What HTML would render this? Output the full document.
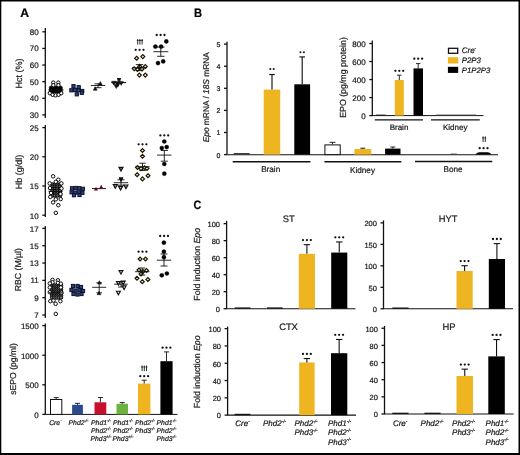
<!DOCTYPE html>
<html><head><meta charset="utf-8"><style>
html,body{margin:0;padding:0;background:#fff;}
body{width:520px;height:455px;overflow:hidden;}
svg{display:block;font-family:"Liberation Sans", sans-serif;-webkit-font-smoothing:antialiased;}
text{text-rendering:geometricPrecision;stroke:#1a1a1a;stroke-width:0.22px;}
.tl{will-change:transform;}
</style></head><body>
<svg width="520" height="455" viewBox="0 0 520 455" font-family='"Liberation Sans", sans-serif'>
<rect x="0" y="0" width="520" height="455" fill="#fff"/>
<g opacity="0.999"><text x="20.20" y="17.20" font-size="12.2" text-anchor="start" fill="#000" font-weight="bold">A</text>
<line x1="45.30" y1="28.00" x2="45.30" y2="118.00" stroke="#111" stroke-width="1.3"/>
<line x1="42.30" y1="114.90" x2="45.30" y2="114.90" stroke="#111" stroke-width="1.3"/>
<text x="38.70" y="117.80" font-size="8.0" text-anchor="end" fill="#222">30</text>
<line x1="42.30" y1="98.28" x2="45.30" y2="98.28" stroke="#111" stroke-width="1.3"/>
<text x="38.70" y="101.18" font-size="8.0" text-anchor="end" fill="#222">40</text>
<line x1="42.30" y1="81.66" x2="45.30" y2="81.66" stroke="#111" stroke-width="1.3"/>
<text x="38.70" y="84.56" font-size="8.0" text-anchor="end" fill="#222">50</text>
<line x1="42.30" y1="65.04" x2="45.30" y2="65.04" stroke="#111" stroke-width="1.3"/>
<text x="38.70" y="67.94" font-size="8.0" text-anchor="end" fill="#222">60</text>
<line x1="42.30" y1="48.42" x2="45.30" y2="48.42" stroke="#111" stroke-width="1.3"/>
<text x="38.70" y="51.32" font-size="8.0" text-anchor="end" fill="#222">70</text>
<line x1="42.30" y1="31.80" x2="45.30" y2="31.80" stroke="#111" stroke-width="1.3"/>
<text x="38.70" y="34.70" font-size="8.0" text-anchor="end" fill="#222">80</text>
<text x="21.90" y="73.50" font-size="9.0" text-anchor="middle" fill="#222" transform="rotate(-90 21.90 73.50)">Hct (%)</text>
<line x1="45.30" y1="125.00" x2="45.30" y2="217.00" stroke="#111" stroke-width="1.3"/>
<line x1="42.30" y1="215.20" x2="45.30" y2="215.20" stroke="#111" stroke-width="1.3"/>
<text x="38.70" y="218.60" font-size="8.0" text-anchor="end" fill="#222">10</text>
<line x1="42.30" y1="186.00" x2="45.30" y2="186.00" stroke="#111" stroke-width="1.3"/>
<text x="38.70" y="189.40" font-size="8.0" text-anchor="end" fill="#222">15</text>
<line x1="42.30" y1="156.80" x2="45.30" y2="156.80" stroke="#111" stroke-width="1.3"/>
<text x="38.70" y="160.20" font-size="8.0" text-anchor="end" fill="#222">20</text>
<line x1="42.30" y1="127.60" x2="45.30" y2="127.60" stroke="#111" stroke-width="1.3"/>
<text x="38.70" y="131.00" font-size="8.0" text-anchor="end" fill="#222">25</text>
<text x="21.90" y="172.00" font-size="9.0" text-anchor="middle" fill="#222" transform="rotate(-90 21.90 172.00)">Hb (g/dl)</text>
<line x1="45.30" y1="226.00" x2="45.30" y2="318.00" stroke="#111" stroke-width="1.3"/>
<line x1="42.30" y1="315.00" x2="45.30" y2="315.00" stroke="#111" stroke-width="1.3"/>
<text x="38.70" y="318.10" font-size="8.0" text-anchor="end" fill="#222">7</text>
<line x1="42.30" y1="297.68" x2="45.30" y2="297.68" stroke="#111" stroke-width="1.3"/>
<text x="38.70" y="300.78" font-size="8.0" text-anchor="end" fill="#222">9</text>
<line x1="42.30" y1="280.36" x2="45.30" y2="280.36" stroke="#111" stroke-width="1.3"/>
<text x="38.70" y="283.46" font-size="8.0" text-anchor="end" fill="#222">11</text>
<line x1="42.30" y1="263.04" x2="45.30" y2="263.04" stroke="#111" stroke-width="1.3"/>
<text x="38.70" y="266.14" font-size="8.0" text-anchor="end" fill="#222">13</text>
<line x1="42.30" y1="245.72" x2="45.30" y2="245.72" stroke="#111" stroke-width="1.3"/>
<text x="38.70" y="248.82" font-size="8.0" text-anchor="end" fill="#222">15</text>
<line x1="42.30" y1="228.40" x2="45.30" y2="228.40" stroke="#111" stroke-width="1.3"/>
<text x="38.70" y="231.50" font-size="8.0" text-anchor="end" fill="#222">17</text>
<text x="21.10" y="269.70" font-size="8.7" text-anchor="middle" fill="#222" transform="rotate(-90 21.10 269.70)">RBC (M/µl)</text>
<line x1="45.30" y1="323.60" x2="45.30" y2="414.40" stroke="#111" stroke-width="1.3"/>
<line x1="42.30" y1="414.40" x2="45.30" y2="414.40" stroke="#111" stroke-width="1.3"/>
<text x="38.70" y="418.00" font-size="8.0" text-anchor="end" fill="#222">0</text>
<line x1="42.30" y1="384.80" x2="45.30" y2="384.80" stroke="#111" stroke-width="1.3"/>
<text x="38.70" y="388.40" font-size="8.0" text-anchor="end" fill="#222">500</text>
<line x1="42.30" y1="355.20" x2="45.30" y2="355.20" stroke="#111" stroke-width="1.3"/>
<text x="38.70" y="358.80" font-size="8.0" text-anchor="end" fill="#222">1000</text>
<line x1="42.30" y1="325.60" x2="45.30" y2="325.60" stroke="#111" stroke-width="1.3"/>
<text x="38.70" y="329.20" font-size="8.0" text-anchor="end" fill="#222">1500</text>
<text x="16.10" y="368.90" font-size="8.6" text-anchor="middle" fill="#222" transform="rotate(-90 16.10 368.90)">sEPO (pg/ml)</text>
<line x1="44.80" y1="414.40" x2="177.50" y2="414.40" stroke="#111" stroke-width="1.0"/>
<circle cx="51.00" cy="87.80" r="1.8" fill="#000" stroke="#000" stroke-width="0.6"/>
<circle cx="51.00" cy="89.60" r="1.8" fill="#000" stroke="#000" stroke-width="0.6"/>
<circle cx="51.00" cy="91.40" r="1.8" fill="#000" stroke="#000" stroke-width="0.6"/>
<circle cx="53.40" cy="87.80" r="1.8" fill="#000" stroke="#000" stroke-width="0.6"/>
<circle cx="53.40" cy="89.60" r="1.8" fill="#000" stroke="#000" stroke-width="0.6"/>
<circle cx="53.40" cy="91.40" r="1.8" fill="#000" stroke="#000" stroke-width="0.6"/>
<circle cx="55.80" cy="87.80" r="1.8" fill="#000" stroke="#000" stroke-width="0.6"/>
<circle cx="55.80" cy="89.60" r="1.8" fill="#000" stroke="#000" stroke-width="0.6"/>
<circle cx="55.80" cy="91.40" r="1.8" fill="#000" stroke="#000" stroke-width="0.6"/>
<circle cx="58.20" cy="87.80" r="1.8" fill="#000" stroke="#000" stroke-width="0.6"/>
<circle cx="58.20" cy="89.60" r="1.8" fill="#000" stroke="#000" stroke-width="0.6"/>
<circle cx="58.20" cy="91.40" r="1.8" fill="#000" stroke="#000" stroke-width="0.6"/>
<circle cx="60.60" cy="87.80" r="1.8" fill="#000" stroke="#000" stroke-width="0.6"/>
<circle cx="60.60" cy="89.60" r="1.8" fill="#000" stroke="#000" stroke-width="0.6"/>
<circle cx="60.60" cy="91.40" r="1.8" fill="#000" stroke="#000" stroke-width="0.6"/>
<circle cx="53.30" cy="82.60" r="1.7" fill="#fff" stroke="#000" stroke-width="1.0"/>
<circle cx="58.40" cy="82.60" r="1.7" fill="#fff" stroke="#000" stroke-width="1.0"/>
<circle cx="53.30" cy="85.20" r="1.7" fill="#fff" stroke="#000" stroke-width="1.0"/>
<circle cx="58.40" cy="85.20" r="1.7" fill="#fff" stroke="#000" stroke-width="1.0"/>
<circle cx="49.80" cy="93.20" r="1.7" fill="#fff" stroke="#000" stroke-width="1.0"/>
<circle cx="52.60" cy="94.80" r="1.7" fill="#fff" stroke="#000" stroke-width="1.0"/>
<circle cx="55.60" cy="95.30" r="1.7" fill="#fff" stroke="#000" stroke-width="1.0"/>
<circle cx="58.60" cy="94.80" r="1.7" fill="#fff" stroke="#000" stroke-width="1.0"/>
<circle cx="61.30" cy="93.20" r="1.7" fill="#fff" stroke="#000" stroke-width="1.0"/>
<line x1="48.50" y1="90.00" x2="63.50" y2="90.00" stroke="#111" stroke-width="1.0"/>
<rect x="71.90" y="84.60" width="3.2" height="3.2" fill="#2e4275" stroke="#0c1230" stroke-width="1.0"/>
<rect x="77.10" y="85.60" width="3.2" height="3.2" fill="#2e4275" stroke="#0c1230" stroke-width="1.0"/>
<rect x="69.80" y="88.70" width="3.2" height="3.2" fill="#2e4275" stroke="#0c1230" stroke-width="1.0"/>
<rect x="73.40" y="88.40" width="3.2" height="3.2" fill="#2e4275" stroke="#0c1230" stroke-width="1.0"/>
<rect x="76.90" y="88.60" width="3.2" height="3.2" fill="#2e4275" stroke="#0c1230" stroke-width="1.0"/>
<rect x="80.60" y="89.40" width="3.2" height="3.2" fill="#2e4275" stroke="#0c1230" stroke-width="1.0"/>
<rect x="75.20" y="92.70" width="3.2" height="3.2" fill="#2e4275" stroke="#0c1230" stroke-width="1.0"/>
<rect x="80.20" y="91.20" width="3.2" height="3.2" fill="#2e4275" stroke="#0c1230" stroke-width="1.0"/>
<path d="M100.30 81.60L102.30 85.20L98.30 85.20Z" fill="#111" stroke="#111" stroke-width="0.5"/>
<path d="M95.20 86.70L97.20 90.30L93.20 90.30Z" fill="#111" stroke="#111" stroke-width="0.5"/>
<line x1="90.80" y1="85.50" x2="105.20" y2="85.50" stroke="#111" stroke-width="0.9"/>
<line x1="98.00" y1="83.80" x2="98.00" y2="87.70" stroke="#111" stroke-width="0.9"/>
<line x1="94.50" y1="83.80" x2="101.50" y2="83.80" stroke="#111" stroke-width="0.9"/>
<line x1="94.50" y1="87.70" x2="101.50" y2="87.70" stroke="#111" stroke-width="0.9"/>
<path d="M113.80 85.18L116.00 81.22L111.60 81.22Z" fill="#111" stroke="#111" stroke-width="0.5"/>
<path d="M117.60 85.58L119.80 81.62L115.40 81.62Z" fill="#111" stroke="#111" stroke-width="0.5"/>
<path d="M121.20 85.38L123.40 81.42L119.00 81.42Z" fill="#111" stroke="#111" stroke-width="0.5"/>
<path d="M116.20 88.58L118.40 84.62L114.00 84.62Z" fill="#111" stroke="#111" stroke-width="0.5"/>
<path d="M117.80 87.18L120.00 83.22L115.60 83.22Z" fill="#111" stroke="#111" stroke-width="0.5"/>
<line x1="111.30" y1="82.60" x2="126.00" y2="82.60" stroke="#111" stroke-width="1.1"/>
<line x1="119.00" y1="78.60" x2="119.00" y2="83.00" stroke="#111" stroke-width="1.1"/>
<line x1="117.00" y1="78.60" x2="121.00" y2="78.60" stroke="#111" stroke-width="1.1"/>
<rect x="117.40" y="78.40" width="3.20" height="2.40" fill="#111"/>
<path d="M136.60 56.25L138.55 58.20L136.60 60.15L134.65 58.20Z" fill="#f8efc8" stroke="#1e1600" stroke-width="1.2"/>
<path d="M142.80 54.65L144.75 56.60L142.80 58.55L140.85 56.60Z" fill="#f8efc8" stroke="#1e1600" stroke-width="1.2"/>
<path d="M134.20 66.85L136.15 68.80L134.20 70.75L132.25 68.80Z" fill="#f8efc8" stroke="#1e1600" stroke-width="1.2"/>
<path d="M137.50 67.55L139.45 69.50L137.50 71.45L135.55 69.50Z" fill="#f8efc8" stroke="#1e1600" stroke-width="1.2"/>
<path d="M139.70 64.45L141.65 66.40L139.70 68.35L137.75 66.40Z" fill="#f8efc8" stroke="#1e1600" stroke-width="1.2"/>
<path d="M145.30 64.55L147.25 66.50L145.30 68.45L143.35 66.50Z" fill="#f8efc8" stroke="#1e1600" stroke-width="1.2"/>
<path d="M142.00 67.05L143.95 69.00L142.00 70.95L140.05 69.00Z" fill="#f8efc8" stroke="#1e1600" stroke-width="1.2"/>
<path d="M139.40 73.15L141.35 75.10L139.40 77.05L137.45 75.10Z" fill="#f8efc8" stroke="#1e1600" stroke-width="1.2"/>
<path d="M145.30 73.15L147.25 75.10L145.30 77.05L143.35 75.10Z" fill="#f8efc8" stroke="#1e1600" stroke-width="1.2"/>
<line x1="132.20" y1="67.70" x2="146.80" y2="67.70" stroke="#111" stroke-width="0.9"/>
<line x1="139.50" y1="64.60" x2="139.50" y2="70.60" stroke="#111" stroke-width="0.9"/>
<line x1="135.80" y1="64.60" x2="143.20" y2="64.60" stroke="#111" stroke-width="0.9"/>
<line x1="135.80" y1="70.60" x2="143.20" y2="70.60" stroke="#111" stroke-width="0.9"/>
<circle cx="135.70" cy="49.80" r="1.15" fill="#111"/>
<circle cx="139.60" cy="49.80" r="1.15" fill="#111"/>
<circle cx="143.50" cy="49.80" r="1.15" fill="#111"/>
<path d="M137.70 39.00V44.60M136.80 40.50H138.60" stroke="#222" stroke-width="0.95" fill="none"/>
<path d="M139.90 39.00V44.60M139.00 40.50H140.80" stroke="#222" stroke-width="0.95" fill="none"/>
<path d="M142.10 39.00V44.60M141.20 40.50H143.00" stroke="#222" stroke-width="0.95" fill="none"/>
<circle cx="166.30" cy="41.40" r="2.1" fill="#000" stroke="#000" stroke-width="0.3"/>
<circle cx="155.40" cy="46.60" r="2.1" fill="#000" stroke="#000" stroke-width="0.3"/>
<circle cx="161.10" cy="46.60" r="2.1" fill="#000" stroke="#000" stroke-width="0.3"/>
<circle cx="158.00" cy="63.10" r="2.1" fill="#000" stroke="#000" stroke-width="0.3"/>
<circle cx="163.20" cy="61.40" r="2.1" fill="#000" stroke="#000" stroke-width="0.3"/>
<line x1="153.30" y1="51.70" x2="168.30" y2="51.70" stroke="#111" stroke-width="0.9"/>
<line x1="160.80" y1="47.10" x2="160.80" y2="56.30" stroke="#111" stroke-width="0.9"/>
<line x1="157.10" y1="47.10" x2="164.50" y2="47.10" stroke="#111" stroke-width="0.9"/>
<line x1="157.10" y1="56.30" x2="164.50" y2="56.30" stroke="#111" stroke-width="0.9"/>
<circle cx="156.70" cy="35.00" r="1.15" fill="#111"/>
<circle cx="160.60" cy="35.00" r="1.15" fill="#111"/>
<circle cx="164.50" cy="35.00" r="1.15" fill="#111"/>
<circle cx="52.50" cy="184.50" r="1.75" fill="#666" stroke="#000" stroke-width="1.0"/>
<circle cx="52.50" cy="186.70" r="1.75" fill="#666" stroke="#000" stroke-width="1.0"/>
<circle cx="52.50" cy="188.90" r="1.75" fill="#666" stroke="#000" stroke-width="1.0"/>
<circle cx="52.50" cy="191.10" r="1.75" fill="#666" stroke="#000" stroke-width="1.0"/>
<circle cx="52.50" cy="193.30" r="1.75" fill="#666" stroke="#000" stroke-width="1.0"/>
<circle cx="52.50" cy="195.50" r="1.75" fill="#666" stroke="#000" stroke-width="1.0"/>
<circle cx="55.00" cy="184.50" r="1.75" fill="#666" stroke="#000" stroke-width="1.0"/>
<circle cx="55.00" cy="186.70" r="1.75" fill="#666" stroke="#000" stroke-width="1.0"/>
<circle cx="55.00" cy="188.90" r="1.75" fill="#666" stroke="#000" stroke-width="1.0"/>
<circle cx="55.00" cy="191.10" r="1.75" fill="#666" stroke="#000" stroke-width="1.0"/>
<circle cx="55.00" cy="193.30" r="1.75" fill="#666" stroke="#000" stroke-width="1.0"/>
<circle cx="55.00" cy="195.50" r="1.75" fill="#666" stroke="#000" stroke-width="1.0"/>
<circle cx="57.50" cy="184.50" r="1.75" fill="#666" stroke="#000" stroke-width="1.0"/>
<circle cx="57.50" cy="186.70" r="1.75" fill="#666" stroke="#000" stroke-width="1.0"/>
<circle cx="57.50" cy="188.90" r="1.75" fill="#666" stroke="#000" stroke-width="1.0"/>
<circle cx="57.50" cy="191.10" r="1.75" fill="#666" stroke="#000" stroke-width="1.0"/>
<circle cx="57.50" cy="193.30" r="1.75" fill="#666" stroke="#000" stroke-width="1.0"/>
<circle cx="57.50" cy="195.50" r="1.75" fill="#666" stroke="#000" stroke-width="1.0"/>
<circle cx="60.00" cy="184.50" r="1.75" fill="#666" stroke="#000" stroke-width="1.0"/>
<circle cx="60.00" cy="186.70" r="1.75" fill="#666" stroke="#000" stroke-width="1.0"/>
<circle cx="60.00" cy="188.90" r="1.75" fill="#666" stroke="#000" stroke-width="1.0"/>
<circle cx="60.00" cy="191.10" r="1.75" fill="#666" stroke="#000" stroke-width="1.0"/>
<circle cx="60.00" cy="193.30" r="1.75" fill="#666" stroke="#000" stroke-width="1.0"/>
<circle cx="60.00" cy="195.50" r="1.75" fill="#666" stroke="#000" stroke-width="1.0"/>
<circle cx="53.10" cy="176.30" r="1.75" fill="#fff" stroke="#000" stroke-width="0.95"/>
<circle cx="58.30" cy="179.70" r="1.75" fill="#fff" stroke="#000" stroke-width="0.95"/>
<circle cx="49.70" cy="183.40" r="1.75" fill="#fff" stroke="#000" stroke-width="0.95"/>
<circle cx="61.40" cy="183.40" r="1.75" fill="#fff" stroke="#000" stroke-width="0.95"/>
<circle cx="55.80" cy="181.80" r="1.75" fill="#fff" stroke="#000" stroke-width="0.95"/>
<circle cx="50.30" cy="196.90" r="1.75" fill="#fff" stroke="#000" stroke-width="0.95"/>
<circle cx="60.70" cy="199.10" r="1.75" fill="#fff" stroke="#000" stroke-width="0.95"/>
<circle cx="55.80" cy="199.30" r="1.75" fill="#fff" stroke="#000" stroke-width="0.95"/>
<circle cx="53.10" cy="202.40" r="1.75" fill="#fff" stroke="#000" stroke-width="0.95"/>
<circle cx="58.30" cy="205.20" r="1.75" fill="#fff" stroke="#000" stroke-width="0.95"/>
<circle cx="55.80" cy="212.90" r="1.75" fill="#fff" stroke="#000" stroke-width="0.95"/>
<circle cx="50.00" cy="188.00" r="1.75" fill="#fff" stroke="#000" stroke-width="0.95"/>
<circle cx="61.50" cy="188.50" r="1.75" fill="#fff" stroke="#000" stroke-width="0.95"/>
<circle cx="51.00" cy="193.00" r="1.75" fill="#fff" stroke="#000" stroke-width="0.95"/>
<circle cx="60.50" cy="194.00" r="1.75" fill="#fff" stroke="#000" stroke-width="0.95"/>
<line x1="48.50" y1="191.30" x2="62.60" y2="191.30" stroke="#111" stroke-width="1.0"/>
<rect x="70.40" y="186.70" width="3.2" height="3.2" fill="#2e4275" stroke="#0c1230" stroke-width="1.0"/>
<rect x="74.00" y="186.40" width="3.2" height="3.2" fill="#2e4275" stroke="#0c1230" stroke-width="1.0"/>
<rect x="77.60" y="186.60" width="3.2" height="3.2" fill="#2e4275" stroke="#0c1230" stroke-width="1.0"/>
<rect x="81.20" y="187.20" width="3.2" height="3.2" fill="#2e4275" stroke="#0c1230" stroke-width="1.0"/>
<rect x="70.00" y="190.70" width="3.2" height="3.2" fill="#2e4275" stroke="#0c1230" stroke-width="1.0"/>
<rect x="73.60" y="191.00" width="3.2" height="3.2" fill="#2e4275" stroke="#0c1230" stroke-width="1.0"/>
<rect x="77.20" y="190.70" width="3.2" height="3.2" fill="#2e4275" stroke="#0c1230" stroke-width="1.0"/>
<rect x="80.80" y="191.20" width="3.2" height="3.2" fill="#2e4275" stroke="#0c1230" stroke-width="1.0"/>
<rect x="72.40" y="193.60" width="3.2" height="3.2" fill="#2e4275" stroke="#0c1230" stroke-width="1.0"/>
<rect x="77.90" y="193.40" width="3.2" height="3.2" fill="#2e4275" stroke="#0c1230" stroke-width="1.0"/>
<path d="M101.20 185.36L102.80 188.24L99.60 188.24Z" fill="#5a0a1a" stroke="#5a0a1a" stroke-width="0.5"/>
<path d="M96.00 187.36L97.60 190.24L94.40 190.24Z" fill="#5a0a1a" stroke="#5a0a1a" stroke-width="0.5"/>
<line x1="92.00" y1="188.60" x2="106.00" y2="188.60" stroke="#3a0a12" stroke-width="1.0"/>
<path d="M121.00 171.00L123.00 167.40L119.00 167.40Z" fill="#777" stroke="#111" stroke-width="1.2"/>
<path d="M115.30 188.20L117.30 184.60L113.30 184.60Z" fill="#bbb" stroke="#111" stroke-width="1.2"/>
<path d="M120.60 190.00L122.60 186.40L118.60 186.40Z" fill="#bbb" stroke="#111" stroke-width="1.2"/>
<path d="M125.90 188.60L127.90 185.00L123.90 185.00Z" fill="#bbb" stroke="#111" stroke-width="1.2"/>
<path d="M121.00 181.40L123.00 177.80L119.00 177.80Z" fill="#111" stroke="#111" stroke-width="1.0"/>
<line x1="113.80" y1="182.70" x2="128.20" y2="182.70" stroke="#111" stroke-width="0.9"/>
<line x1="121.00" y1="179.80" x2="121.00" y2="185.20" stroke="#111" stroke-width="0.9"/>
<line x1="117.50" y1="179.80" x2="124.50" y2="179.80" stroke="#111" stroke-width="0.9"/>
<line x1="117.50" y1="185.20" x2="124.50" y2="185.20" stroke="#111" stroke-width="0.9"/>
<path d="M142.50 148.55L144.45 150.50L142.50 152.45L140.55 150.50Z" fill="#f8efc8" stroke="#1e1600" stroke-width="1.2"/>
<path d="M142.50 154.35L144.45 156.30L142.50 158.25L140.55 156.30Z" fill="#f8efc8" stroke="#1e1600" stroke-width="1.2"/>
<path d="M137.50 165.55L139.45 167.50L137.50 169.45L135.55 167.50Z" fill="#f8efc8" stroke="#1e1600" stroke-width="1.2"/>
<path d="M141.00 166.65L142.95 168.60L141.00 170.55L139.05 168.60Z" fill="#f8efc8" stroke="#1e1600" stroke-width="1.2"/>
<path d="M144.50 165.85L146.45 167.80L144.50 169.75L142.55 167.80Z" fill="#f8efc8" stroke="#1e1600" stroke-width="1.2"/>
<path d="M147.00 166.55L148.95 168.50L147.00 170.45L145.05 168.50Z" fill="#f8efc8" stroke="#1e1600" stroke-width="1.2"/>
<path d="M137.10 172.75L139.05 174.70L137.10 176.65L135.15 174.70Z" fill="#f8efc8" stroke="#1e1600" stroke-width="1.2"/>
<path d="M148.00 173.75L149.95 175.70L148.00 177.65L146.05 175.70Z" fill="#f8efc8" stroke="#1e1600" stroke-width="1.2"/>
<path d="M142.50 176.95L144.45 178.90L142.50 180.85L140.55 178.90Z" fill="#f8efc8" stroke="#1e1600" stroke-width="1.2"/>
<line x1="135.30" y1="166.80" x2="149.70" y2="166.80" stroke="#111" stroke-width="0.9"/>
<line x1="142.50" y1="163.20" x2="142.50" y2="170.50" stroke="#111" stroke-width="0.9"/>
<line x1="139.30" y1="163.20" x2="145.70" y2="163.20" stroke="#111" stroke-width="0.9"/>
<line x1="139.30" y1="170.50" x2="145.70" y2="170.50" stroke="#111" stroke-width="0.9"/>
<circle cx="138.60" cy="144.30" r="1.15" fill="#111"/>
<circle cx="142.50" cy="144.30" r="1.15" fill="#111"/>
<circle cx="146.40" cy="144.30" r="1.15" fill="#111"/>
<circle cx="164.30" cy="141.50" r="2.1" fill="#000" stroke="#000" stroke-width="0.3"/>
<circle cx="161.80" cy="148.10" r="2.1" fill="#000" stroke="#000" stroke-width="0.3"/>
<circle cx="166.70" cy="147.10" r="2.1" fill="#000" stroke="#000" stroke-width="0.3"/>
<circle cx="164.30" cy="164.00" r="2.1" fill="#000" stroke="#000" stroke-width="0.3"/>
<circle cx="164.30" cy="173.70" r="2.1" fill="#000" stroke="#000" stroke-width="0.3"/>
<line x1="157.10" y1="155.10" x2="171.50" y2="155.10" stroke="#111" stroke-width="0.9"/>
<line x1="164.30" y1="150.50" x2="164.30" y2="161.20" stroke="#111" stroke-width="0.9"/>
<line x1="160.80" y1="150.50" x2="167.80" y2="150.50" stroke="#111" stroke-width="0.9"/>
<line x1="160.80" y1="161.20" x2="167.80" y2="161.20" stroke="#111" stroke-width="0.9"/>
<circle cx="160.40" cy="135.40" r="1.15" fill="#111"/>
<circle cx="164.30" cy="135.40" r="1.15" fill="#111"/>
<circle cx="168.20" cy="135.40" r="1.15" fill="#111"/>
<circle cx="52.20" cy="285.50" r="1.75" fill="#777" stroke="#000" stroke-width="1.0"/>
<circle cx="52.20" cy="287.50" r="1.75" fill="#777" stroke="#000" stroke-width="1.0"/>
<circle cx="52.20" cy="289.50" r="1.75" fill="#777" stroke="#000" stroke-width="1.0"/>
<circle cx="52.20" cy="291.50" r="1.75" fill="#777" stroke="#000" stroke-width="1.0"/>
<circle cx="52.20" cy="293.50" r="1.75" fill="#777" stroke="#000" stroke-width="1.0"/>
<circle cx="52.20" cy="295.50" r="1.75" fill="#777" stroke="#000" stroke-width="1.0"/>
<circle cx="52.20" cy="297.50" r="1.75" fill="#777" stroke="#000" stroke-width="1.0"/>
<circle cx="54.40" cy="285.50" r="1.75" fill="#777" stroke="#000" stroke-width="1.0"/>
<circle cx="54.40" cy="287.50" r="1.75" fill="#777" stroke="#000" stroke-width="1.0"/>
<circle cx="54.40" cy="289.50" r="1.75" fill="#777" stroke="#000" stroke-width="1.0"/>
<circle cx="54.40" cy="291.50" r="1.75" fill="#777" stroke="#000" stroke-width="1.0"/>
<circle cx="54.40" cy="293.50" r="1.75" fill="#777" stroke="#000" stroke-width="1.0"/>
<circle cx="54.40" cy="295.50" r="1.75" fill="#777" stroke="#000" stroke-width="1.0"/>
<circle cx="54.40" cy="297.50" r="1.75" fill="#777" stroke="#000" stroke-width="1.0"/>
<circle cx="56.60" cy="285.50" r="1.75" fill="#777" stroke="#000" stroke-width="1.0"/>
<circle cx="56.60" cy="287.50" r="1.75" fill="#777" stroke="#000" stroke-width="1.0"/>
<circle cx="56.60" cy="289.50" r="1.75" fill="#777" stroke="#000" stroke-width="1.0"/>
<circle cx="56.60" cy="291.50" r="1.75" fill="#777" stroke="#000" stroke-width="1.0"/>
<circle cx="56.60" cy="293.50" r="1.75" fill="#777" stroke="#000" stroke-width="1.0"/>
<circle cx="56.60" cy="295.50" r="1.75" fill="#777" stroke="#000" stroke-width="1.0"/>
<circle cx="56.60" cy="297.50" r="1.75" fill="#777" stroke="#000" stroke-width="1.0"/>
<circle cx="58.80" cy="285.50" r="1.75" fill="#777" stroke="#000" stroke-width="1.0"/>
<circle cx="58.80" cy="287.50" r="1.75" fill="#777" stroke="#000" stroke-width="1.0"/>
<circle cx="58.80" cy="289.50" r="1.75" fill="#777" stroke="#000" stroke-width="1.0"/>
<circle cx="58.80" cy="291.50" r="1.75" fill="#777" stroke="#000" stroke-width="1.0"/>
<circle cx="58.80" cy="293.50" r="1.75" fill="#777" stroke="#000" stroke-width="1.0"/>
<circle cx="58.80" cy="295.50" r="1.75" fill="#777" stroke="#000" stroke-width="1.0"/>
<circle cx="58.80" cy="297.50" r="1.75" fill="#777" stroke="#000" stroke-width="1.0"/>
<circle cx="61.00" cy="285.50" r="1.75" fill="#777" stroke="#000" stroke-width="1.0"/>
<circle cx="61.00" cy="287.50" r="1.75" fill="#777" stroke="#000" stroke-width="1.0"/>
<circle cx="61.00" cy="289.50" r="1.75" fill="#777" stroke="#000" stroke-width="1.0"/>
<circle cx="61.00" cy="291.50" r="1.75" fill="#777" stroke="#000" stroke-width="1.0"/>
<circle cx="61.00" cy="293.50" r="1.75" fill="#777" stroke="#000" stroke-width="1.0"/>
<circle cx="61.00" cy="295.50" r="1.75" fill="#777" stroke="#000" stroke-width="1.0"/>
<circle cx="61.00" cy="297.50" r="1.75" fill="#777" stroke="#000" stroke-width="1.0"/>
<circle cx="52.50" cy="279.80" r="1.75" fill="#fff" stroke="#000" stroke-width="0.95"/>
<circle cx="57.90" cy="280.30" r="1.75" fill="#fff" stroke="#000" stroke-width="0.95"/>
<circle cx="52.50" cy="282.30" r="1.75" fill="#fff" stroke="#000" stroke-width="0.95"/>
<circle cx="57.90" cy="282.80" r="1.75" fill="#fff" stroke="#000" stroke-width="0.95"/>
<circle cx="49.80" cy="283.40" r="1.75" fill="#fff" stroke="#000" stroke-width="0.95"/>
<circle cx="49.80" cy="287.40" r="1.75" fill="#fff" stroke="#000" stroke-width="0.95"/>
<circle cx="49.80" cy="292.20" r="1.75" fill="#fff" stroke="#000" stroke-width="0.95"/>
<circle cx="60.90" cy="283.70" r="1.75" fill="#fff" stroke="#000" stroke-width="0.95"/>
<circle cx="60.90" cy="287.40" r="1.75" fill="#fff" stroke="#000" stroke-width="0.95"/>
<circle cx="61.40" cy="292.70" r="1.75" fill="#fff" stroke="#000" stroke-width="0.95"/>
<circle cx="50.30" cy="301.20" r="1.75" fill="#fff" stroke="#000" stroke-width="0.95"/>
<circle cx="53.50" cy="300.60" r="1.75" fill="#fff" stroke="#000" stroke-width="0.95"/>
<circle cx="55.60" cy="303.80" r="1.75" fill="#fff" stroke="#000" stroke-width="0.95"/>
<circle cx="60.40" cy="301.20" r="1.75" fill="#fff" stroke="#000" stroke-width="0.95"/>
<circle cx="55.80" cy="313.90" r="1.75" fill="#fff" stroke="#000" stroke-width="0.95"/>
<line x1="48.50" y1="292.80" x2="63.00" y2="292.80" stroke="#111" stroke-width="1.0"/>
<rect x="71.40" y="284.40" width="3.2" height="3.2" fill="#2e4275" stroke="#0c1230" stroke-width="1.0"/>
<rect x="75.90" y="284.40" width="3.2" height="3.2" fill="#2e4275" stroke="#0c1230" stroke-width="1.0"/>
<rect x="79.40" y="285.40" width="3.2" height="3.2" fill="#2e4275" stroke="#0c1230" stroke-width="1.0"/>
<rect x="69.90" y="288.40" width="3.2" height="3.2" fill="#2e4275" stroke="#0c1230" stroke-width="1.0"/>
<rect x="73.90" y="288.90" width="3.2" height="3.2" fill="#2e4275" stroke="#0c1230" stroke-width="1.0"/>
<rect x="77.90" y="288.40" width="3.2" height="3.2" fill="#2e4275" stroke="#0c1230" stroke-width="1.0"/>
<rect x="81.40" y="289.40" width="3.2" height="3.2" fill="#2e4275" stroke="#0c1230" stroke-width="1.0"/>
<rect x="71.90" y="292.40" width="3.2" height="3.2" fill="#2e4275" stroke="#0c1230" stroke-width="1.0"/>
<rect x="75.90" y="292.90" width="3.2" height="3.2" fill="#2e4275" stroke="#0c1230" stroke-width="1.0"/>
<rect x="79.90" y="292.40" width="3.2" height="3.2" fill="#2e4275" stroke="#0c1230" stroke-width="1.0"/>
<path d="M99.40 280.69L101.30 284.11L97.50 284.11Z" fill="#111" stroke="#111" stroke-width="0.5"/>
<path d="M99.00 291.29L100.90 294.71L97.10 294.71Z" fill="#111" stroke="#111" stroke-width="0.5"/>
<line x1="92.20" y1="287.30" x2="106.20" y2="287.30" stroke="#111" stroke-width="0.9"/>
<line x1="99.20" y1="282.80" x2="99.20" y2="292.80" stroke="#111" stroke-width="0.9"/>
<line x1="96.40" y1="282.80" x2="102.00" y2="282.80" stroke="#111" stroke-width="0.9"/>
<line x1="96.40" y1="292.80" x2="102.00" y2="292.80" stroke="#111" stroke-width="0.9"/>
<path d="M121.00 274.06L122.95 270.55L119.05 270.55Z" fill="#fff" stroke="#111" stroke-width="1.15"/>
<path d="M118.40 285.06L120.35 281.55L116.45 281.55Z" fill="#fff" stroke="#111" stroke-width="1.15"/>
<path d="M123.20 284.65L125.15 281.14L121.25 281.14Z" fill="#fff" stroke="#111" stroke-width="1.15"/>
<path d="M124.10 289.45L126.05 285.94L122.15 285.94Z" fill="#fff" stroke="#111" stroke-width="1.15"/>
<path d="M118.40 294.75L120.35 291.25L116.45 291.25Z" fill="#fff" stroke="#111" stroke-width="1.15"/>
<line x1="114.20" y1="284.20" x2="127.80" y2="284.20" stroke="#111" stroke-width="0.9"/>
<line x1="121.00" y1="281.50" x2="121.00" y2="287.00" stroke="#111" stroke-width="0.9"/>
<line x1="118.00" y1="281.50" x2="124.00" y2="281.50" stroke="#111" stroke-width="0.9"/>
<line x1="118.00" y1="287.00" x2="124.00" y2="287.00" stroke="#111" stroke-width="0.9"/>
<path d="M140.10 257.05L142.05 259.00L140.10 260.95L138.15 259.00Z" fill="#f8efc8" stroke="#1e1600" stroke-width="1.2"/>
<path d="M145.50 257.05L147.45 259.00L145.50 260.95L143.55 259.00Z" fill="#f8efc8" stroke="#1e1600" stroke-width="1.2"/>
<path d="M139.00 268.05L140.95 270.00L139.00 271.95L137.05 270.00Z" fill="#f8efc8" stroke="#1e1600" stroke-width="1.2"/>
<path d="M143.00 269.55L144.95 271.50L143.00 273.45L141.05 271.50Z" fill="#f8efc8" stroke="#1e1600" stroke-width="1.2"/>
<path d="M146.50 268.55L148.45 270.50L146.50 272.45L144.55 270.50Z" fill="#f8efc8" stroke="#1e1600" stroke-width="1.2"/>
<path d="M141.00 272.05L142.95 274.00L141.00 275.95L139.05 274.00Z" fill="#f8efc8" stroke="#1e1600" stroke-width="1.2"/>
<path d="M137.00 276.35L138.95 278.30L137.00 280.25L135.05 278.30Z" fill="#f8efc8" stroke="#1e1600" stroke-width="1.2"/>
<path d="M142.30 279.75L144.25 281.70L142.30 283.65L140.35 281.70Z" fill="#f8efc8" stroke="#1e1600" stroke-width="1.2"/>
<path d="M147.90 277.55L149.85 279.50L147.90 281.45L145.95 279.50Z" fill="#f8efc8" stroke="#1e1600" stroke-width="1.2"/>
<line x1="135.10" y1="271.70" x2="149.50" y2="271.70" stroke="#111" stroke-width="0.9"/>
<line x1="142.30" y1="268.00" x2="142.30" y2="275.00" stroke="#111" stroke-width="0.9"/>
<line x1="139.30" y1="268.00" x2="145.30" y2="268.00" stroke="#111" stroke-width="0.9"/>
<line x1="139.30" y1="275.00" x2="145.30" y2="275.00" stroke="#111" stroke-width="0.9"/>
<circle cx="138.60" cy="251.70" r="1.15" fill="#111"/>
<circle cx="142.50" cy="251.70" r="1.15" fill="#111"/>
<circle cx="146.40" cy="251.70" r="1.15" fill="#111"/>
<circle cx="163.90" cy="242.70" r="2.1" fill="#000" stroke="#000" stroke-width="0.3"/>
<circle cx="163.90" cy="251.70" r="2.1" fill="#000" stroke="#000" stroke-width="0.3"/>
<circle cx="163.90" cy="257.20" r="2.1" fill="#000" stroke="#000" stroke-width="0.3"/>
<circle cx="161.80" cy="275.30" r="2.1" fill="#000" stroke="#000" stroke-width="0.3"/>
<circle cx="166.90" cy="273.50" r="2.1" fill="#000" stroke="#000" stroke-width="0.3"/>
<line x1="156.80" y1="260.20" x2="171.20" y2="260.20" stroke="#111" stroke-width="0.9"/>
<line x1="164.00" y1="254.00" x2="164.00" y2="266.00" stroke="#111" stroke-width="0.9"/>
<line x1="160.50" y1="254.00" x2="167.50" y2="254.00" stroke="#111" stroke-width="0.9"/>
<line x1="160.50" y1="266.00" x2="167.50" y2="266.00" stroke="#111" stroke-width="0.9"/>
<circle cx="160.20" cy="236.00" r="1.15" fill="#111"/>
<circle cx="164.10" cy="236.00" r="1.15" fill="#111"/>
<circle cx="168.00" cy="236.00" r="1.15" fill="#111"/>
<rect x="50.50" y="399.50" width="11.30" height="14.90" fill="#fff" stroke="#111" stroke-width="1.0"/>
<line x1="56.20" y1="399.00" x2="56.20" y2="397.60" stroke="#111" stroke-width="0.9"/>
<line x1="53.70" y1="397.60" x2="58.70" y2="397.60" stroke="#111" stroke-width="0.9"/>
<rect x="72.10" y="404.80" width="10.80" height="9.60" fill="#2b4b8e"/>
<line x1="77.50" y1="404.80" x2="77.50" y2="403.30" stroke="#111" stroke-width="0.9"/>
<line x1="75.00" y1="403.30" x2="80.00" y2="403.30" stroke="#111" stroke-width="0.9"/>
<rect x="94.50" y="402.30" width="11.80" height="12.10" fill="#c8102e"/>
<line x1="100.40" y1="402.30" x2="100.40" y2="397.50" stroke="#111" stroke-width="0.9"/>
<line x1="97.90" y1="397.50" x2="102.90" y2="397.50" stroke="#111" stroke-width="0.9"/>
<rect x="116.50" y="403.80" width="11.50" height="10.60" fill="#6db33f"/>
<line x1="122.20" y1="403.80" x2="122.20" y2="402.60" stroke="#111" stroke-width="0.9"/>
<line x1="119.70" y1="402.60" x2="124.70" y2="402.60" stroke="#111" stroke-width="0.9"/>
<rect x="138.00" y="383.60" width="12.40" height="30.80" fill="#efb521"/>
<line x1="144.20" y1="383.60" x2="144.20" y2="380.20" stroke="#111" stroke-width="0.9"/>
<line x1="141.70" y1="380.20" x2="146.70" y2="380.20" stroke="#111" stroke-width="0.9"/>
<rect x="160.40" y="361.20" width="12.20" height="53.20" fill="#000"/>
<line x1="166.50" y1="361.20" x2="166.50" y2="351.90" stroke="#111" stroke-width="0.9"/>
<line x1="164.00" y1="351.90" x2="169.00" y2="351.90" stroke="#111" stroke-width="0.9"/>
<circle cx="140.30" cy="376.20" r="1.15" fill="#111"/>
<circle cx="144.20" cy="376.20" r="1.15" fill="#111"/>
<circle cx="148.10" cy="376.20" r="1.15" fill="#111"/>
<path d="M142.10 365.50V371.10M141.20 367.00H143.00" stroke="#222" stroke-width="0.95" fill="none"/>
<path d="M144.30 365.50V371.10M143.40 367.00H145.20" stroke="#222" stroke-width="0.95" fill="none"/>
<path d="M146.50 365.50V371.10M145.60 367.00H147.40" stroke="#222" stroke-width="0.95" fill="none"/>
<circle cx="162.60" cy="347.70" r="1.15" fill="#111"/>
<circle cx="166.50" cy="347.70" r="1.15" fill="#111"/>
<circle cx="170.40" cy="347.70" r="1.15" fill="#111"/>
<text x="55.40" y="425.20" font-size="6.8" font-style="italic" text-anchor="middle" fill="#222">Cre<tspan font-size="4.4" dy="-3">-</tspan></text>
<text x="78.50" y="425.20" font-size="6.8" font-style="italic" text-anchor="middle" fill="#222">Phd2<tspan font-size="4.2" dy="-2.8">-/-</tspan></text>
<text x="101.00" y="425.20" font-size="6.8" font-style="italic" text-anchor="middle" fill="#222">Phd1<tspan font-size="4.2" dy="-2.8">-/-</tspan></text>
<text x="101.00" y="433.00" font-size="6.8" font-style="italic" text-anchor="middle" fill="#222">Phd2<tspan font-size="4.2" dy="-2.8">-/-</tspan></text>
<text x="101.00" y="440.90" font-size="6.8" font-style="italic" text-anchor="middle" fill="#222">Phd3<tspan font-size="4.2" dy="-2.8">+/-</tspan></text>
<text x="123.00" y="425.20" font-size="6.8" font-style="italic" text-anchor="middle" fill="#222">Phd1<tspan font-size="4.2" dy="-2.8">-/-</tspan></text>
<text x="123.00" y="433.00" font-size="6.8" font-style="italic" text-anchor="middle" fill="#222">Phd2<tspan font-size="4.2" dy="-2.8">-/-</tspan></text>
<text x="123.00" y="440.90" font-size="6.8" font-style="italic" text-anchor="middle" fill="#222">Phd3<tspan font-size="4.2" dy="-2.8">+/-</tspan></text>
<text x="145.00" y="425.20" font-size="6.8" font-style="italic" text-anchor="middle" fill="#222">Phd2<tspan font-size="4.2" dy="-2.8">-/-</tspan></text>
<text x="145.00" y="433.00" font-size="6.8" font-style="italic" text-anchor="middle" fill="#222">Phd3<tspan font-size="4.2" dy="-2.8">-/-</tspan></text>
<text x="166.50" y="425.20" font-size="6.8" font-style="italic" text-anchor="middle" fill="#222">Phd1<tspan font-size="4.2" dy="-2.8">-/-</tspan></text>
<text x="166.50" y="433.00" font-size="6.8" font-style="italic" text-anchor="middle" fill="#222">Phd2<tspan font-size="4.2" dy="-2.8">-/-</tspan></text>
<text x="166.50" y="440.90" font-size="6.8" font-style="italic" text-anchor="middle" fill="#222">Phd3<tspan font-size="4.2" dy="-2.8">-/-</tspan></text>
<text x="0" y="0" font-size="12.2" font-weight="bold" fill="#000" transform="translate(194.0 16.9) scale(0.92 1)">B</text>
<line x1="227.00" y1="41.70" x2="227.00" y2="154.60" stroke="#111" stroke-width="1.3"/>
<line x1="224.00" y1="154.60" x2="227.00" y2="154.60" stroke="#111" stroke-width="1.3"/>
<text x="220.40" y="157.50" font-size="7.0" text-anchor="end" fill="#222">0</text>
<line x1="224.00" y1="132.50" x2="227.00" y2="132.50" stroke="#111" stroke-width="1.3"/>
<text x="220.40" y="135.40" font-size="7.0" text-anchor="end" fill="#222">1</text>
<line x1="224.00" y1="110.40" x2="227.00" y2="110.40" stroke="#111" stroke-width="1.3"/>
<text x="220.40" y="113.30" font-size="7.0" text-anchor="end" fill="#222">2</text>
<line x1="224.00" y1="88.30" x2="227.00" y2="88.30" stroke="#111" stroke-width="1.3"/>
<text x="220.40" y="91.20" font-size="7.0" text-anchor="end" fill="#222">3</text>
<line x1="224.00" y1="66.20" x2="227.00" y2="66.20" stroke="#111" stroke-width="1.3"/>
<text x="220.40" y="69.10" font-size="7.0" text-anchor="end" fill="#222">4</text>
<line x1="224.00" y1="44.10" x2="227.00" y2="44.10" stroke="#111" stroke-width="1.3"/>
<text x="220.40" y="47.00" font-size="7.0" text-anchor="end" fill="#222">5</text>
<text x="209.4" y="97.2" font-size="8.4" text-anchor="middle" fill="#222" transform="rotate(-90 209.4 97.2)"><tspan font-style="italic">Epo</tspan> mRNA / <tspan font-style="italic">18S</tspan> mRNA</text>
<line x1="226.50" y1="154.70" x2="498.00" y2="154.70" stroke="#111" stroke-width="1.1"/>
<rect x="233.80" y="153.20" width="15.80" height="1.00" fill="#111"/>
<rect x="263.70" y="89.60" width="16.50" height="65.00" fill="#efb521"/>
<line x1="272.00" y1="89.60" x2="272.00" y2="74.50" stroke="#111" stroke-width="1.15"/>
<line x1="269.20" y1="74.50" x2="274.80" y2="74.50" stroke="#111" stroke-width="1.15"/>
<rect x="294.30" y="84.30" width="15.80" height="70.30" fill="#000"/>
<line x1="302.20" y1="84.30" x2="302.20" y2="56.90" stroke="#111" stroke-width="1.15"/>
<line x1="299.40" y1="56.90" x2="305.00" y2="56.90" stroke="#111" stroke-width="1.15"/>
<circle cx="270.30" cy="69.00" r="1.0" fill="#111"/>
<circle cx="273.70" cy="69.00" r="1.0" fill="#111"/>
<circle cx="300.50" cy="52.20" r="1.0" fill="#111"/>
<circle cx="303.90" cy="52.20" r="1.0" fill="#111"/>
<rect x="324.90" y="144.90" width="15.30" height="9.70" fill="#fff" stroke="#111" stroke-width="1.0"/>
<line x1="332.50" y1="144.40" x2="332.50" y2="142.30" stroke="#111" stroke-width="0.9"/>
<line x1="329.50" y1="142.30" x2="335.50" y2="142.30" stroke="#111" stroke-width="0.9"/>
<rect x="354.40" y="149.00" width="16.90" height="5.60" fill="#efb521"/>
<line x1="362.80" y1="149.00" x2="362.80" y2="148.20" stroke="#111" stroke-width="0.9"/>
<line x1="360.30" y1="148.20" x2="365.30" y2="148.20" stroke="#111" stroke-width="0.9"/>
<rect x="385.10" y="148.60" width="15.40" height="6.00" fill="#000"/>
<line x1="392.80" y1="148.60" x2="392.80" y2="147.00" stroke="#111" stroke-width="0.9"/>
<line x1="390.30" y1="147.00" x2="395.30" y2="147.00" stroke="#111" stroke-width="0.9"/>
<rect x="450.80" y="153.60" width="6.00" height="1.00" fill="#444"/>
<path d="M475.5 154.6 Q476.5 152.3 479 152.2 H488 Q490.5 152.3 491.5 154.6 Z" fill="#000"/>
<circle cx="479.70" cy="148.20" r="1.15" fill="#111"/>
<circle cx="483.60" cy="148.20" r="1.15" fill="#111"/>
<circle cx="487.50" cy="148.20" r="1.15" fill="#111"/>
<path d="M483.10 136.40V142.00M482.20 137.90H484.00" stroke="#222" stroke-width="0.95" fill="none"/>
<path d="M485.30 136.40V142.00M484.40 137.90H486.20" stroke="#222" stroke-width="0.95" fill="none"/>
<line x1="232.70" y1="161.70" x2="310.40" y2="161.70" stroke="#111" stroke-width="1.4"/>
<text x="270.70" y="172.30" font-size="8.2" text-anchor="middle" fill="#222">Brain</text>
<line x1="324.40" y1="161.70" x2="401.40" y2="161.70" stroke="#111" stroke-width="1.4"/>
<text x="362.50" y="172.50" font-size="8.2" text-anchor="middle" fill="#222">Kidney</text>
<line x1="415.00" y1="161.50" x2="492.30" y2="161.50" stroke="#111" stroke-width="1.4"/>
<text x="453.00" y="172.30" font-size="8.2" text-anchor="middle" fill="#222">Bone</text>
<line x1="372.30" y1="40.60" x2="372.30" y2="115.60" stroke="#111" stroke-width="1.3"/>
<line x1="369.30" y1="115.60" x2="372.30" y2="115.60" stroke="#111" stroke-width="1.3"/>
<text x="365.70" y="119.20" font-size="8.0" text-anchor="end" fill="#222">0</text>
<line x1="369.30" y1="97.58" x2="372.30" y2="97.58" stroke="#111" stroke-width="1.3"/>
<text x="365.70" y="101.18" font-size="8.0" text-anchor="end" fill="#222">200</text>
<line x1="369.30" y1="79.56" x2="372.30" y2="79.56" stroke="#111" stroke-width="1.3"/>
<text x="365.70" y="83.16" font-size="8.0" text-anchor="end" fill="#222">400</text>
<line x1="369.30" y1="61.54" x2="372.30" y2="61.54" stroke="#111" stroke-width="1.3"/>
<text x="365.70" y="65.14" font-size="8.0" text-anchor="end" fill="#222">600</text>
<line x1="369.30" y1="43.52" x2="372.30" y2="43.52" stroke="#111" stroke-width="1.3"/>
<text x="365.70" y="47.12" font-size="8.0" text-anchor="end" fill="#222">800</text>
<text x="346.00" y="77.50" font-size="8.8" text-anchor="middle" fill="#222" transform="rotate(-90 346.00 77.50)">EPO (pg/mg protein)</text>
<line x1="371.80" y1="115.60" x2="483.50" y2="115.60" stroke="#111" stroke-width="1.0"/>
<rect x="376.00" y="114.60" width="9.60" height="1.00" fill="#222"/>
<rect x="394.80" y="80.00" width="9.00" height="35.60" fill="#efb521"/>
<line x1="399.30" y1="80.00" x2="399.30" y2="75.20" stroke="#111" stroke-width="0.9"/>
<line x1="397.10" y1="75.20" x2="401.50" y2="75.20" stroke="#111" stroke-width="0.9"/>
<rect x="413.50" y="68.40" width="9.50" height="47.20" fill="#000"/>
<line x1="418.20" y1="68.40" x2="418.20" y2="63.60" stroke="#111" stroke-width="0.9"/>
<line x1="416.00" y1="63.60" x2="420.40" y2="63.60" stroke="#111" stroke-width="0.9"/>
<circle cx="395.40" cy="70.80" r="1.15" fill="#111"/>
<circle cx="399.30" cy="70.80" r="1.15" fill="#111"/>
<circle cx="403.20" cy="70.80" r="1.15" fill="#111"/>
<circle cx="414.30" cy="58.70" r="1.15" fill="#111"/>
<circle cx="418.20" cy="58.70" r="1.15" fill="#111"/>
<circle cx="422.10" cy="58.70" r="1.15" fill="#111"/>
<rect x="436.00" y="114.60" width="40.00" height="0.80" fill="#444"/>
<line x1="374.80" y1="119.90" x2="423.00" y2="119.90" stroke="#111" stroke-width="1.3"/>
<text x="399.00" y="129.90" font-size="8.0" text-anchor="middle" fill="#222">Brain</text>
<line x1="431.00" y1="119.90" x2="479.80" y2="119.90" stroke="#111" stroke-width="1.3"/>
<text x="455.20" y="129.90" font-size="8.0" text-anchor="middle" fill="#222">Kidney</text>
<rect x="448.50" y="48.30" width="9.20" height="5.00" fill="#fff" stroke="#111" stroke-width="1.3"/>
<text x="461.70" y="53.40" font-size="8.0" text-anchor="start" fill="#222" font-style="italic">Cre<tspan font-size="4.6" dy="-3">-</tspan></text>
<rect x="447.90" y="57.20" width="10.30" height="6.30" fill="#efb521"/>
<text x="461.70" y="62.80" font-size="7.9" text-anchor="start" fill="#222" font-style="italic">P2P3</text>
<rect x="447.90" y="66.80" width="10.30" height="6.10" fill="#000"/>
<text x="461.70" y="72.80" font-size="7.8" text-anchor="start" fill="#222" font-style="italic">P1P2P3</text>
<text x="0" y="0" font-size="12.2" font-weight="bold" fill="#000" transform="translate(193.5 209.4) scale(0.88 1)">C</text>
<line x1="226.60" y1="220.90" x2="226.60" y2="308.70" stroke="#111" stroke-width="1.3"/>
<line x1="223.60" y1="308.70" x2="226.60" y2="308.70" stroke="#111" stroke-width="1.3"/>
<text x="220.00" y="312.00" font-size="7.5" text-anchor="end" fill="#222">0</text>
<line x1="223.60" y1="291.69" x2="226.60" y2="291.69" stroke="#111" stroke-width="1.3"/>
<text x="220.00" y="294.99" font-size="7.5" text-anchor="end" fill="#222">20</text>
<line x1="223.60" y1="274.68" x2="226.60" y2="274.68" stroke="#111" stroke-width="1.3"/>
<text x="220.00" y="277.98" font-size="7.5" text-anchor="end" fill="#222">40</text>
<line x1="223.60" y1="257.67" x2="226.60" y2="257.67" stroke="#111" stroke-width="1.3"/>
<text x="220.00" y="260.97" font-size="7.5" text-anchor="end" fill="#222">60</text>
<line x1="223.60" y1="240.66" x2="226.60" y2="240.66" stroke="#111" stroke-width="1.3"/>
<text x="220.00" y="243.96" font-size="7.5" text-anchor="end" fill="#222">80</text>
<line x1="223.60" y1="223.65" x2="226.60" y2="223.65" stroke="#111" stroke-width="1.3"/>
<text x="220.00" y="226.95" font-size="7.5" text-anchor="end" fill="#222">100</text>
<line x1="226.10" y1="308.70" x2="355.40" y2="308.70" stroke="#111" stroke-width="1.1"/>
<text x="288.70" y="222.20" font-size="9.4" text-anchor="middle" fill="#222">ST</text>
<rect x="234.70" y="307.40" width="15.70" height="1.30" fill="#111"/>
<rect x="267.00" y="307.40" width="15.70" height="1.30" fill="#111"/>
<rect x="298.80" y="253.84" width="16.20" height="54.86" fill="#efb521"/>
<line x1="306.90" y1="253.84" x2="306.90" y2="244.66" stroke="#111" stroke-width="1.1"/>
<line x1="303.70" y1="244.66" x2="310.10" y2="244.66" stroke="#111" stroke-width="1.1"/>
<circle cx="303.00" cy="240.06" r="1.15" fill="#111"/>
<circle cx="306.90" cy="240.06" r="1.15" fill="#111"/>
<circle cx="310.80" cy="240.06" r="1.15" fill="#111"/>
<rect x="331.20" y="252.57" width="16.10" height="56.13" fill="#000"/>
<line x1="339.25" y1="252.57" x2="339.25" y2="241.94" stroke="#111" stroke-width="1.1"/>
<line x1="336.05" y1="241.94" x2="342.45" y2="241.94" stroke="#111" stroke-width="1.1"/>
<circle cx="335.35" cy="237.34" r="1.15" fill="#111"/>
<circle cx="339.25" cy="237.34" r="1.15" fill="#111"/>
<circle cx="343.15" cy="237.34" r="1.15" fill="#111"/>
<line x1="383.50" y1="220.40" x2="383.50" y2="308.80" stroke="#111" stroke-width="1.3"/>
<line x1="380.50" y1="308.80" x2="383.50" y2="308.80" stroke="#111" stroke-width="1.3"/>
<text x="376.90" y="312.10" font-size="7.5" text-anchor="end" fill="#222">0</text>
<line x1="380.50" y1="287.32" x2="383.50" y2="287.32" stroke="#111" stroke-width="1.3"/>
<text x="376.90" y="290.62" font-size="7.5" text-anchor="end" fill="#222">50</text>
<line x1="380.50" y1="265.84" x2="383.50" y2="265.84" stroke="#111" stroke-width="1.3"/>
<text x="376.90" y="269.14" font-size="7.5" text-anchor="end" fill="#222">100</text>
<line x1="380.50" y1="244.36" x2="383.50" y2="244.36" stroke="#111" stroke-width="1.3"/>
<text x="376.90" y="247.66" font-size="7.5" text-anchor="end" fill="#222">150</text>
<line x1="380.50" y1="222.88" x2="383.50" y2="222.88" stroke="#111" stroke-width="1.3"/>
<text x="376.90" y="226.18" font-size="7.5" text-anchor="end" fill="#222">200</text>
<line x1="383.00" y1="308.80" x2="513.00" y2="308.80" stroke="#111" stroke-width="1.1"/>
<text x="448.20" y="222.20" font-size="9.4" text-anchor="middle" fill="#222">HYT</text>
<rect x="392.30" y="307.50" width="16.20" height="1.30" fill="#111"/>
<rect x="456.50" y="271.00" width="16.20" height="37.80" fill="#efb521"/>
<line x1="464.60" y1="271.00" x2="464.60" y2="265.71" stroke="#111" stroke-width="1.1"/>
<line x1="461.40" y1="265.71" x2="467.80" y2="265.71" stroke="#111" stroke-width="1.1"/>
<circle cx="460.70" cy="261.11" r="1.15" fill="#111"/>
<circle cx="464.60" cy="261.11" r="1.15" fill="#111"/>
<circle cx="468.50" cy="261.11" r="1.15" fill="#111"/>
<rect x="488.80" y="258.97" width="16.20" height="49.83" fill="#000"/>
<line x1="496.90" y1="258.97" x2="496.90" y2="243.59" stroke="#111" stroke-width="1.1"/>
<line x1="493.70" y1="243.59" x2="500.10" y2="243.59" stroke="#111" stroke-width="1.1"/>
<circle cx="493.00" cy="238.99" r="1.15" fill="#111"/>
<circle cx="496.90" cy="238.99" r="1.15" fill="#111"/>
<circle cx="500.80" cy="238.99" r="1.15" fill="#111"/>
<line x1="227.60" y1="326.50" x2="227.60" y2="415.10" stroke="#111" stroke-width="1.3"/>
<line x1="224.60" y1="415.10" x2="227.60" y2="415.10" stroke="#111" stroke-width="1.3"/>
<text x="221.00" y="418.40" font-size="7.5" text-anchor="end" fill="#222">0</text>
<line x1="224.60" y1="397.81" x2="227.60" y2="397.81" stroke="#111" stroke-width="1.3"/>
<text x="221.00" y="401.11" font-size="7.5" text-anchor="end" fill="#222">20</text>
<line x1="224.60" y1="380.52" x2="227.60" y2="380.52" stroke="#111" stroke-width="1.3"/>
<text x="221.00" y="383.82" font-size="7.5" text-anchor="end" fill="#222">40</text>
<line x1="224.60" y1="363.23" x2="227.60" y2="363.23" stroke="#111" stroke-width="1.3"/>
<text x="221.00" y="366.53" font-size="7.5" text-anchor="end" fill="#222">60</text>
<line x1="224.60" y1="345.94" x2="227.60" y2="345.94" stroke="#111" stroke-width="1.3"/>
<text x="221.00" y="349.24" font-size="7.5" text-anchor="end" fill="#222">80</text>
<line x1="224.60" y1="328.65" x2="227.60" y2="328.65" stroke="#111" stroke-width="1.3"/>
<text x="221.00" y="331.95" font-size="7.5" text-anchor="end" fill="#222">100</text>
<line x1="227.10" y1="415.10" x2="356.00" y2="415.10" stroke="#111" stroke-width="1.1"/>
<text x="288.50" y="330.00" font-size="9.4" text-anchor="middle" fill="#222">CTX</text>
<rect x="234.70" y="413.80" width="15.70" height="1.30" fill="#111"/>
<rect x="299.20" y="362.45" width="15.40" height="52.65" fill="#efb521"/>
<line x1="306.90" y1="362.45" x2="306.90" y2="358.56" stroke="#111" stroke-width="1.1"/>
<line x1="303.70" y1="358.56" x2="310.10" y2="358.56" stroke="#111" stroke-width="1.1"/>
<circle cx="303.00" cy="353.96" r="1.15" fill="#111"/>
<circle cx="306.90" cy="353.96" r="1.15" fill="#111"/>
<circle cx="310.80" cy="353.96" r="1.15" fill="#111"/>
<rect x="331.00" y="353.20" width="16.30" height="61.90" fill="#000"/>
<line x1="339.15" y1="353.20" x2="339.15" y2="339.46" stroke="#111" stroke-width="1.1"/>
<line x1="335.95" y1="339.46" x2="342.35" y2="339.46" stroke="#111" stroke-width="1.1"/>
<circle cx="335.25" cy="334.86" r="1.15" fill="#111"/>
<circle cx="339.15" cy="334.86" r="1.15" fill="#111"/>
<circle cx="343.05" cy="334.86" r="1.15" fill="#111"/>
<line x1="384.50" y1="326.00" x2="384.50" y2="414.00" stroke="#111" stroke-width="1.3"/>
<line x1="381.50" y1="414.00" x2="384.50" y2="414.00" stroke="#111" stroke-width="1.3"/>
<text x="377.90" y="417.30" font-size="7.5" text-anchor="end" fill="#222">0</text>
<line x1="381.50" y1="396.85" x2="384.50" y2="396.85" stroke="#111" stroke-width="1.3"/>
<text x="377.90" y="400.15" font-size="7.5" text-anchor="end" fill="#222">20</text>
<line x1="381.50" y1="379.70" x2="384.50" y2="379.70" stroke="#111" stroke-width="1.3"/>
<text x="377.90" y="383.00" font-size="7.5" text-anchor="end" fill="#222">40</text>
<line x1="381.50" y1="362.55" x2="384.50" y2="362.55" stroke="#111" stroke-width="1.3"/>
<text x="377.90" y="365.85" font-size="7.5" text-anchor="end" fill="#222">60</text>
<line x1="381.50" y1="345.40" x2="384.50" y2="345.40" stroke="#111" stroke-width="1.3"/>
<text x="377.90" y="348.70" font-size="7.5" text-anchor="end" fill="#222">80</text>
<line x1="381.50" y1="328.25" x2="384.50" y2="328.25" stroke="#111" stroke-width="1.3"/>
<text x="377.90" y="331.55" font-size="7.5" text-anchor="end" fill="#222">100</text>
<line x1="384.00" y1="414.00" x2="513.70" y2="414.00" stroke="#111" stroke-width="1.1"/>
<text x="449.00" y="330.20" font-size="9.4" text-anchor="middle" fill="#222">HP</text>
<rect x="392.30" y="412.70" width="16.20" height="1.30" fill="#111"/>
<rect x="424.40" y="412.70" width="16.20" height="1.30" fill="#111"/>
<rect x="456.50" y="376.01" width="16.50" height="37.99" fill="#efb521"/>
<line x1="464.75" y1="376.01" x2="464.75" y2="369.15" stroke="#111" stroke-width="1.1"/>
<line x1="461.55" y1="369.15" x2="467.95" y2="369.15" stroke="#111" stroke-width="1.1"/>
<circle cx="460.85" cy="364.55" r="1.15" fill="#111"/>
<circle cx="464.75" cy="364.55" r="1.15" fill="#111"/>
<circle cx="468.65" cy="364.55" r="1.15" fill="#111"/>
<rect x="488.30" y="356.38" width="16.50" height="57.62" fill="#000"/>
<line x1="496.55" y1="356.38" x2="496.55" y2="339.57" stroke="#111" stroke-width="1.1"/>
<line x1="493.35" y1="339.57" x2="499.75" y2="339.57" stroke="#111" stroke-width="1.1"/>
<circle cx="492.65" cy="334.97" r="1.15" fill="#111"/>
<circle cx="496.55" cy="334.97" r="1.15" fill="#111"/>
<circle cx="500.45" cy="334.97" r="1.15" fill="#111"/>
<text x="200.50" y="264.30" font-size="8.8" text-anchor="middle" fill="#222" transform="rotate(-90 200.50 264.30)">Fold induction <tspan font-style="italic">Epo</tspan></text>
<text x="200.50" y="371.80" font-size="8.8" text-anchor="middle" fill="#222" transform="rotate(-90 200.50 371.80)">Fold induction <tspan font-style="italic">Epo</tspan></text>
<text x="242.50" y="426.00" font-size="8.0" font-style="italic" text-anchor="middle" fill="#222">Cre<tspan font-size="4.6" dy="-3.2">-</tspan></text>
<text x="274.50" y="426.00" font-size="8.0" font-style="italic" text-anchor="middle" fill="#222">Phd2<tspan font-size="4.6" dy="-3.2">-/-</tspan></text>
<text x="306.00" y="426.00" font-size="8.0" font-style="italic" text-anchor="middle" fill="#222">Phd2<tspan font-size="4.6" dy="-3.2">-/-</tspan></text>
<text x="306.00" y="435.30" font-size="8.0" font-style="italic" text-anchor="middle" fill="#222">Phd3<tspan font-size="4.6" dy="-3.2">-/-</tspan></text>
<text x="339.50" y="426.00" font-size="8.0" font-style="italic" text-anchor="middle" fill="#222">Phd1<tspan font-size="4.6" dy="-3.2">-/-</tspan></text>
<text x="339.50" y="435.30" font-size="8.0" font-style="italic" text-anchor="middle" fill="#222">Phd2<tspan font-size="4.6" dy="-3.2">-/-</tspan></text>
<text x="339.50" y="444.60" font-size="8.0" font-style="italic" text-anchor="middle" fill="#222">Phd3<tspan font-size="4.6" dy="-3.2">-/-</tspan></text>
<text x="400.10" y="426.00" font-size="8.0" font-style="italic" text-anchor="middle" fill="#222">Cre<tspan font-size="4.6" dy="-3.2">-</tspan></text>
<text x="432.10" y="426.00" font-size="8.0" font-style="italic" text-anchor="middle" fill="#222">Phd2<tspan font-size="4.6" dy="-3.2">-/-</tspan></text>
<text x="463.60" y="426.00" font-size="8.0" font-style="italic" text-anchor="middle" fill="#222">Phd2<tspan font-size="4.6" dy="-3.2">-/-</tspan></text>
<text x="463.60" y="435.30" font-size="8.0" font-style="italic" text-anchor="middle" fill="#222">Phd3<tspan font-size="4.6" dy="-3.2">-/-</tspan></text>
<text x="497.10" y="426.00" font-size="8.0" font-style="italic" text-anchor="middle" fill="#222">Phd1<tspan font-size="4.6" dy="-3.2">-/-</tspan></text>
<text x="497.10" y="435.30" font-size="8.0" font-style="italic" text-anchor="middle" fill="#222">Phd2<tspan font-size="4.6" dy="-3.2">-/-</tspan></text>
<text x="497.10" y="444.60" font-size="8.0" font-style="italic" text-anchor="middle" fill="#222">Phd3<tspan font-size="4.6" dy="-3.2">-/-</tspan></text></g>
<rect x="0" y="0" width="520" height="1.5" fill="#000"/><rect x="0" y="0" width="1.3" height="455" fill="#000"/><rect x="518.5" y="0" width="1.5" height="455" fill="#000"/><rect x="0" y="453" width="520" height="2" fill="#000"/>
</svg>
</body></html>
